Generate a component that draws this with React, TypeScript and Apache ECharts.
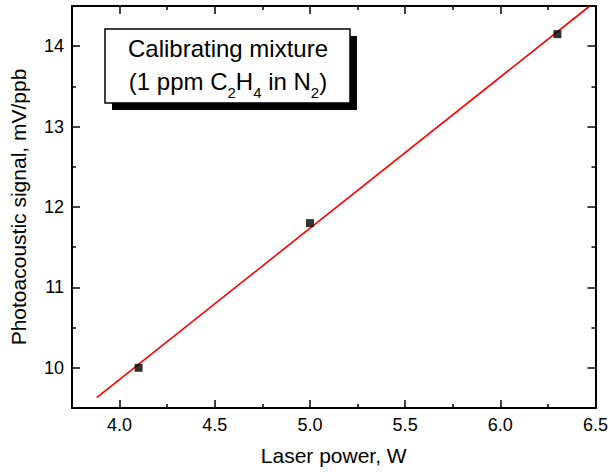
import React, { useEffect, useRef } from "react";
import * as echarts from "echarts";

const laserPowerW = [4.1, 5.0, 6.3];
const signalMvPpb = [10.0, 11.8, 14.15];
// Linear fit line, endpoints
const fitPowerW = [3.88, 6.47];
const fitSignal = [9.63, 14.5];

// Tick values
const xMajorTicks = [4.0, 4.5, 5.0, 5.5, 6.0, 6.5];
const xMinorTicks = [4.25, 4.75, 5.25, 5.75, 6.25];
const yMajorTicks = [10, 11, 12, 13, 14];
const yMinorTicks = [10.5, 11.5, 12.5, 13.5];

const X_MIN = 3.75;
const X_MAX = 6.5;
const Y_MIN = 9.5;
const Y_MAX = 14.5;

const FONT = "'Liberation Sans', Arial, Helvetica, sans-serif";

export default function App() {
  const ref = useRef<HTMLDivElement>(null);

  useEffect(() => {
    if (!ref.current) return;
    const chart = echarts.init(ref.current, undefined, { renderer: "svg" });

    const axisLine = { show: true, lineStyle: { color: "#000", width: 2 } };
    const mkX = (position: string, ticks: number[], len: number, labels: boolean, line: boolean) => ({
      type: "value",
      position,
      min: X_MIN,
      max: X_MAX,
      axisLine: line ? axisLine : { show: false },
      axisTick: { show: true, inside: true, length: len, customValues: ticks, lineStyle: { color: "#000", width: 1.5 } },
      axisLabel: labels
        ? {
            show: true,
            customValues: ticks,
            formatter: (v: number) => v.toFixed(1),
            fontSize: 18,
            color: "#000",
            margin: 8,
            fontFamily: FONT,
          }
        : { show: false },
      splitLine: { show: false },
      ...(labels
        ? {
            name: "Laser power, W",
            nameLocation: "middle",
            nameGap: 37,
            nameTextStyle: { fontSize: 21, color: "#000", fontFamily: FONT },
          }
        : {}),
    });
    const mkY = (position: string, ticks: number[], len: number, labels: boolean, line: boolean) => ({
      type: "value",
      position,
      min: Y_MIN,
      max: Y_MAX,
      axisLine: line ? axisLine : { show: false },
      axisTick: { show: true, inside: true, length: len, customValues: ticks, lineStyle: { color: "#000", width: 1.5 } },
      axisLabel: labels
        ? {
            show: true,
            customValues: ticks,
            formatter: (v: number) => String(v),
            fontSize: 18,
            color: "#000",
            margin: 8,
            fontFamily: FONT,
          }
        : { show: false },
      splitLine: { show: false },
      ...(labels
        ? {
            name: "Photoacoustic signal, mV/ppb",
            nameLocation: "middle",
            nameGap: 43,
            nameTextStyle: { fontSize: 21, color: "#000", fontFamily: FONT },
          }
        : {}),
    });

    chart.setOption({
      animation: false,
      backgroundColor: "#fff",
      grid: { left: 70, right: 12, top: 6, bottom: 64, containLabel: false },
      xAxis: [
        mkX("bottom", xMajorTicks, 8, true, true),
        mkX("bottom", xMinorTicks, 4, false, false),
        mkX("top", xMajorTicks, 8, false, true),
        mkX("top", xMinorTicks, 4, false, false),
      ],
      yAxis: [
        mkY("left", yMajorTicks, 8, true, true),
        mkY("left", yMinorTicks, 4, false, false),
        mkY("right", yMajorTicks, 8, false, true),
        mkY("right", yMinorTicks, 4, false, false),
      ],
      series: [
        {
          type: "line",
          xAxisIndex: 0,
          yAxisIndex: 0,
          data: fitPowerW.map((x, i) => [x, fitSignal[i]]),
          showSymbol: false,
          symbol: "none",
          lineStyle: { color: "#ff0000", width: 1.6 },
          z: 2,
        },
        {
          type: "scatter",
          xAxisIndex: 0,
          yAxisIndex: 0,
          data: laserPowerW.map((x, i) => [x, signalMvPpb[i]]),
          symbol: "rect",
          symbolSize: 8,
          itemStyle: { color: "#000" },
          z: 3,
        },
      ],
      graphic: [
        {
          type: "group",
          z: 10,
          children: [
            { type: "rect", shape: { x: 112, y: 36, width: 245, height: 74 }, style: { fill: "#000" } },
            {
              type: "rect",
              shape: { x: 105, y: 29, width: 245, height: 74 },
              style: { fill: "#fff", stroke: "#000", lineWidth: 1.5 },
            },
            {
              type: "text",
              x: 228,
              y: 48,
              style: {
                text: "Calibrating mixture",
                fontSize: 24,
                fontFamily: FONT,
                fill: "#000",
                align: "center",
                verticalAlign: "middle",
              },
            },
            {
              type: "text",
              x: 228,
              y: 81,
              style: {
                text: "{n|(1 ppm C}{s|2}{n|H}{s|4}{n| in N}{s|2}{n|)}",
                fontFamily: FONT,
                fill: "#000",
                align: "center",
                verticalAlign: "middle",
                rich: {
                  n: { fontSize: 24, lineHeight: 38, fontFamily: FONT, fill: "#000" },
                  s: { fontSize: 15, lineHeight: 15, verticalAlign: "bottom", fontFamily: FONT, fill: "#000" },
                },
              },
            },
          ],
        },
      ],
    });

    return () => chart.dispose();
  }, []);

  return (
    <div
      ref={ref}
      style={{ position: "absolute", left: 0, top: 0, width: 611, height: 472, background: "#fff" }}
    />
  );
}
